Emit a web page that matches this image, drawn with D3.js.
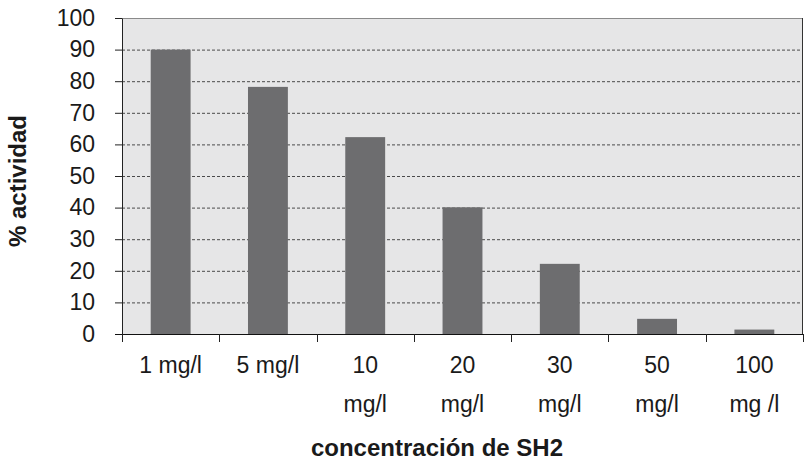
<!DOCTYPE html>
<html>
<head>
<meta charset="utf-8">
<script src="https://cdn.jsdelivr.net/npm/d3@7"></script>
<style>
  body { margin: 0; background: #fff; }
  svg { display: block; font-family: "Liberation Sans", Arial, sans-serif; }
</style>
</head>
<body>
<div id="chart"></div>
<script>
// data
const categories = ["1 mg/l", "5 mg/l", "10 mg/l", "20 mg/l", "30 mg/l", "50 mg/l", "100 mg /l"];
const labelLines = [["1 mg/l"], ["5 mg/l"], ["10", "mg/l"], ["20", "mg/l"], ["30", "mg/l"], ["50", "mg/l"], ["100", "mg /l"]];
const actividad = [90, 78.2, 62.3, 40.1, 22.2, 4.8, 1.4];
const yTicks = [0, 10, 20, 30, 40, 50, 60, 70, 80, 90, 100];

const width = 805, height = 462;
const margin = {top: 18, right: 2, bottom: 128, left: 122};
const innerW = width - margin.left - margin.right;
const innerH = height - margin.top - margin.bottom;

const svg = d3.select("#chart").append("svg")
    .attr("width", width)
    .attr("height", height);

const g = svg.append("g")
    .attr("transform", "translate(" + margin.left + "," + margin.top + ")");

const x = d3.scaleBand()
    .domain(categories)
    .range([0, innerW])
    .paddingInner(0.59)
    .paddingOuter(0.295);

const xEdges = d3.scaleLinear().domain([0, categories.length]).range([0, innerW]);

const y = d3.scaleLinear()
    .domain([0, 100])
    .range([innerH, 0]);

// plot background
g.append("rect")
    .attr("width", innerW)
    .attr("height", innerH)
    .attr("fill", "#e6e6e7");

// dashed gridlines
g.selectAll(".grid")
    .data(yTicks.filter(d => d > 0 && d < 100))
    .enter().append("line")
    .attr("x1", 0).attr("x2", innerW)
    .attr("y1", d => y(d) + 0.5).attr("y2", d => y(d) + 0.5)
    .attr("stroke", "#4a4a4a")
    .attr("stroke-width", 1)
    .attr("stroke-dasharray", "3,2");

// bars
g.selectAll(".bar")
    .data(actividad)
    .enter().append("rect")
    .attr("x", (d, i) => x(categories[i]))
    .attr("width", x.bandwidth())
    .attr("y", d => y(d))
    .attr("height", d => innerH - y(d))
    .attr("fill", "#6d6d6f");

// frame: top and right border
g.append("line")
    .attr("x1", -7).attr("x2", innerW)
    .attr("y1", 0.5).attr("y2", 0.5)
    .attr("stroke", "#8a8a8a");
g.append("line")
    .attr("x1", innerW - 0.5).attr("x2", innerW - 0.5)
    .attr("y1", 0).attr("y2", innerH)
    .attr("stroke", "#333");

// y axis
const yAxis = g.append("g")
    .call(d3.axisLeft(y).tickValues(yTicks).tickSize(7).tickPadding(20).tickSizeOuter(0));
yAxis.select(".domain").attr("stroke", "#222");
yAxis.selectAll(".tick line").attr("stroke", "#222");
yAxis.selectAll("text")
    .attr("font-size", 23)
    .attr("fill", "#1a1a1a")
    .attr("font-family", "'Liberation Sans', Arial, sans-serif");

// x axis line and ticks at band edges
const xAxis = g.append("g").attr("transform", "translate(0," + innerH + ")");
xAxis.append("line")
    .attr("x1", -7).attr("x2", innerW)
    .attr("y1", 0.5).attr("y2", 0.5)
    .attr("stroke", "#111");
xAxis.selectAll(".xtick")
    .data(d3.range(categories.length + 1))
    .enter().append("line")
    .attr("x1", d => Math.round(xEdges(d)) + 0.5)
    .attr("x2", d => Math.round(xEdges(d)) + 0.5)
    .attr("y1", 0).attr("y2", 8)
    .attr("stroke", "#222");

// category labels (wrapped)
const lbl = xAxis.selectAll(".xlabel")
    .data(labelLines)
    .enter().append("text")
    .attr("text-anchor", "middle")
    .attr("font-size", 23)
    .attr("fill", "#1a1a1a")
    .attr("transform", (d, i) => "translate(" + (x(categories[i]) + x.bandwidth() / 2) + ",0)");
lbl.selectAll("tspan")
    .data(d => d)
    .enter().append("tspan")
    .attr("x", 0)
    .attr("y", (d, i) => 39 + i * 39)
    .text(d => d);

// axis titles
svg.append("text")
    .attr("x", 437)
    .attr("y", 456)
    .attr("text-anchor", "middle")
    .attr("font-size", 24)
    .attr("font-weight", "bold")
    .attr("fill", "#1a1a1a")
    .text("concentración de SH2");

svg.append("text")
    .attr("transform", "translate(26,181) rotate(-90)")
    .attr("text-anchor", "middle")
    .attr("font-size", 24)
    .attr("font-weight", "bold")
    .attr("fill", "#1a1a1a")
    .text("% actividad");
</script>
</body>
</html>
